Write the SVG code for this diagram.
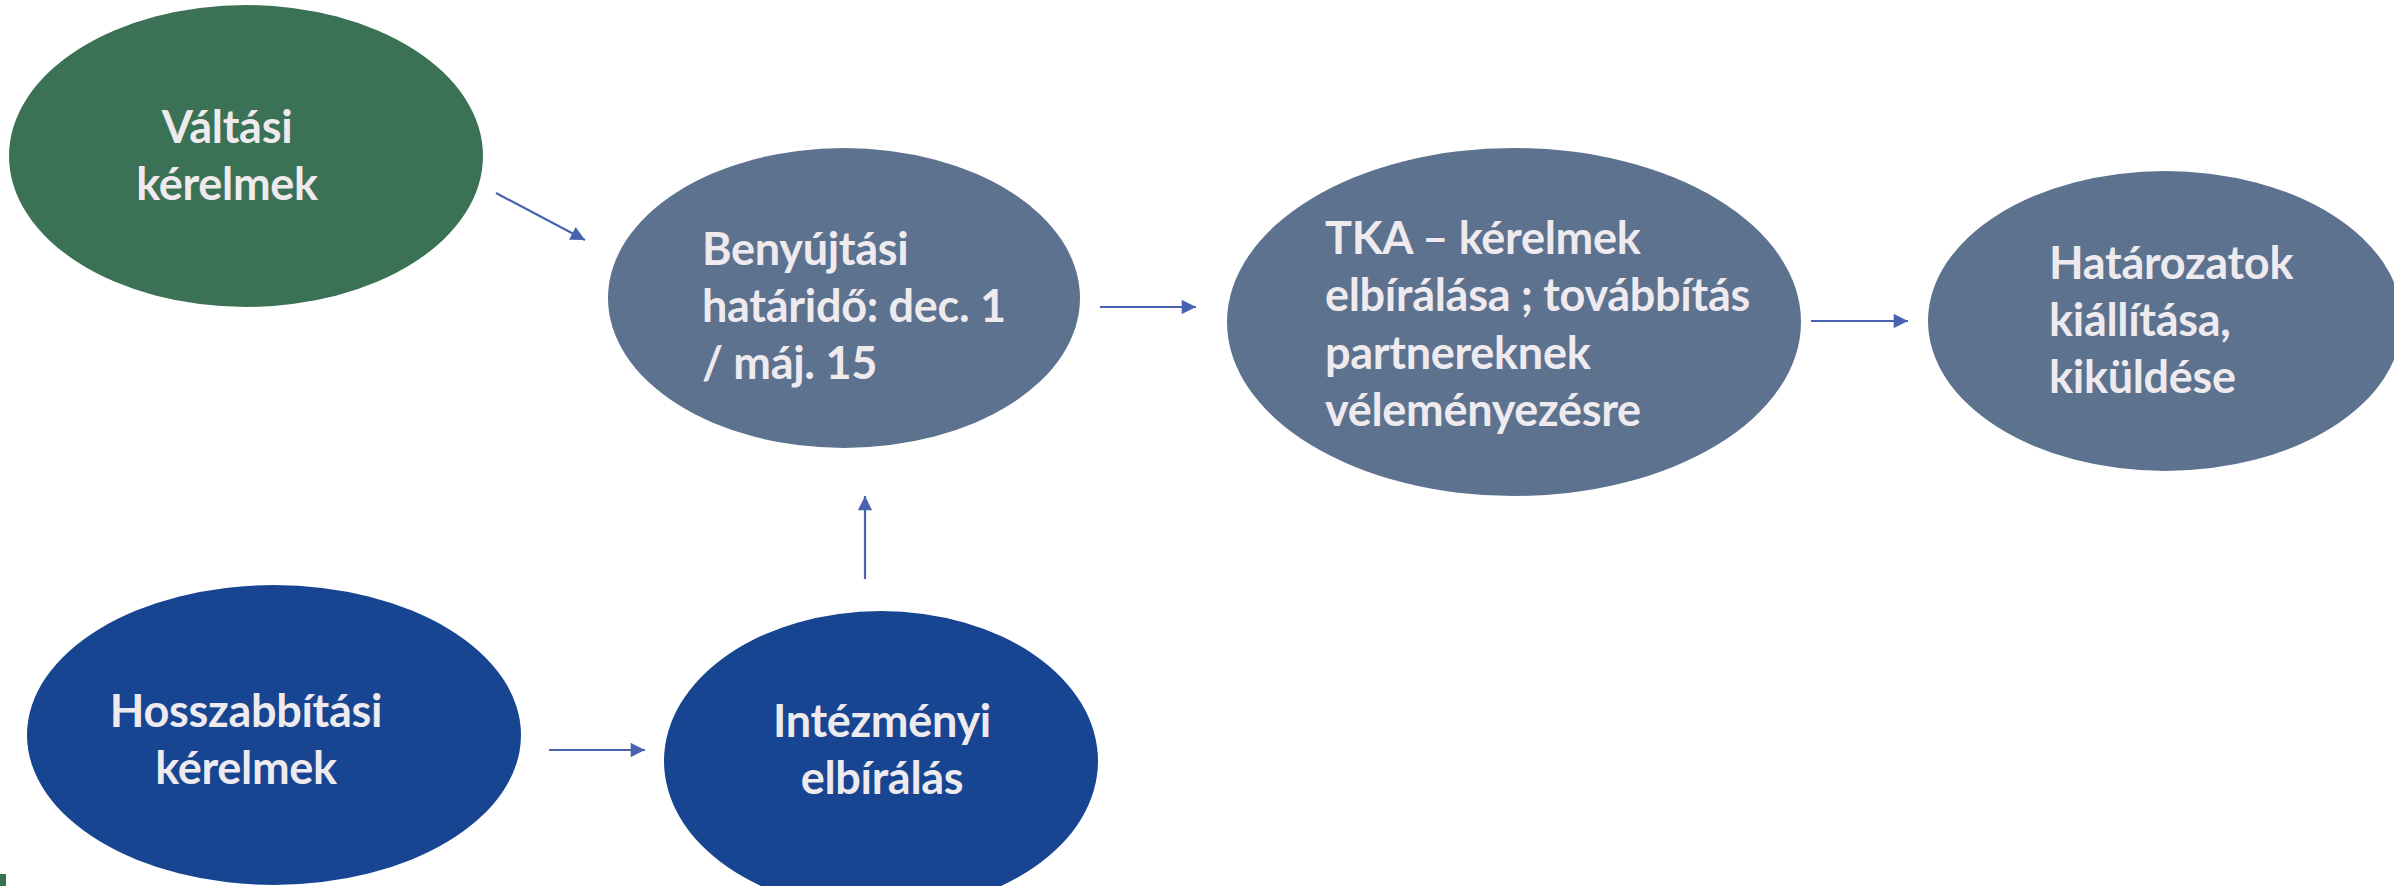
<svg xmlns="http://www.w3.org/2000/svg" width="2394" height="886" viewBox="0 0 2394 886">
<style>
.t{font-family:Lato,"Open Sans","Liberation Sans",sans-serif;font-weight:bold;font-size:45px;letter-spacing:-0.3px;fill:#EEEAEE}
.c{stroke:#4A63B0;stroke-width:2.2;fill:none}
.green{fill:#3B7155}
.slate{fill:#5C728F}
.navy{fill:#174591}
</style>
<defs>
<marker id="ah" viewBox="0 0 10 10" refX="10" refY="5" markerWidth="7.5" markerHeight="6.5" markerUnits="strokeWidth" orient="auto">
<path d="M0,0 L10,5 L0,10 z" fill="#4A63B0"/>
</marker>
</defs>
<rect width="2394" height="886" fill="#FFFFFF"/>
<rect x="0" y="874" width="6" height="12" fill="#3B7155"/>
<g id="n-valtasi">
<ellipse class="green" cx="246" cy="156" rx="237" ry="151"/>
<text class="t" text-anchor="middle"><tspan x="227" y="143">Váltási</tspan><tspan x="227" y="200">kérelmek</tspan></text>
</g>
<g id="n-benyujtasi">
<ellipse class="slate" cx="844" cy="298" rx="236" ry="150"/>
<text class="t"><tspan x="702" y="265">Benyújtási</tspan><tspan x="702" y="322">határidő: dec. 1</tspan><tspan x="702" y="379">/ máj. 15</tspan></text>
</g>
<g id="n-tka">
<ellipse class="slate" cx="1514" cy="322" rx="287" ry="174"/>
<text class="t"><tspan x="1325" y="254">TKA – kérelmek</tspan><tspan x="1325" y="311">elbírálása ; továbbítás</tspan><tspan x="1325" y="369">partnereknek</tspan><tspan x="1325" y="426">véleményezésre</tspan></text>
</g>
<g id="n-hatarozatok">
<ellipse class="slate" cx="2165" cy="321" rx="237" ry="150"/>
<text class="t"><tspan x="2049" y="279">Határozatok</tspan><tspan x="2049" y="336">kiállítása,</tspan><tspan x="2049" y="393">kiküldése</tspan></text>
</g>
<g id="n-hosszabbitasi">
<ellipse class="navy" cx="274" cy="735" rx="247" ry="150"/>
<text class="t" text-anchor="middle"><tspan x="246" y="727">Hosszabbítási</tspan><tspan x="246" y="784">kérelmek</tspan></text>
</g>
<g id="n-intezmenyi">
<ellipse class="navy" cx="881" cy="761" rx="217" ry="150"/>
<text class="t" text-anchor="middle"><tspan x="882" y="737">Intézményi</tspan><tspan x="882" y="794">elbírálás</tspan></text>
</g>
<g id="connectors">
<line class="c" x1="496" y1="193" x2="585" y2="240" marker-end="url(#ah)"/>
<line class="c" x1="1100" y1="307" x2="1196" y2="307" marker-end="url(#ah)"/>
<line class="c" x1="1811" y1="321" x2="1908" y2="321" marker-end="url(#ah)"/>
<line class="c" x1="549" y1="750" x2="645" y2="750" marker-end="url(#ah)"/>
<line class="c" x1="865" y1="579" x2="865" y2="496" marker-end="url(#ah)"/>
</g>
</svg>
